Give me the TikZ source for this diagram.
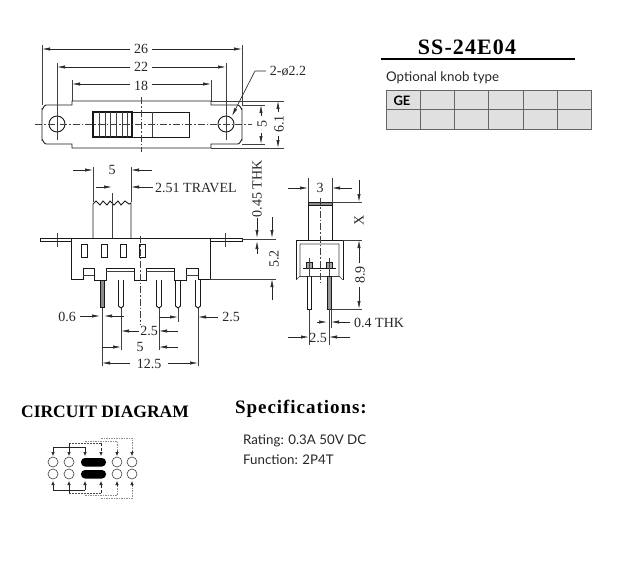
\documentclass[tikz,border=0pt]{standalone}
\usepackage{fontspec}
\setmainfont{Liberation Serif}
\newfontfamily\dimfont{Liberation Serif}
\newfontfamily\labfont{Lato}
\newfontfamily\spacedfont[LetterSpace=5,BoldFont={Liberation Serif Bold}]{Liberation Serif}
\newfontfamily\spacedtitle[LetterSpace=5,BoldFont={Liberation Serif Bold}]{Liberation Serif}
\usetikzlibrary{arrows.meta}
\tikzset{
  obj/.style={draw=black!90,line width=.9pt},
  thinl/.style={draw=black!75,line width=.6pt},
  cen/.style={draw=black!75,line width=.65pt,dash pattern=on 7pt off 2pt on 1.5pt off 2pt},
  dimarr/.style={draw=black!85,line width=.65pt,-{Latex[length=8pt,width=3.2pt]}},
  dimtxt/.style={font=\dimfont\fontsize{14}{14}\selectfont,inner sep=0pt,text=black!85},
  ctline/.style={draw=black!85,line width=.6pt},
  ctdash/.style={draw=black!70,line width=.6pt,dash pattern=on 2pt off 1pt},
  ctdot/.style={draw=black!45,line width=.8pt,dash pattern=on 1.5pt off 1pt},
  ctarr/.style={-{Latex[length=4pt,width=3.5pt]}},
  hole/.style={draw=black!75,line width=.6pt,fill=white},
  lab/.style={font=\labfont\fontsize{13.3}{13.3}\selectfont,inner sep=0pt,anchor=west,text=black!85}
}
\begin{document}
\begin{tikzpicture}[x=1pt,y=-1pt]
\useasboundingbox (0,0) rectangle (617,567);
% === top view ===
\path[obj] (72,101) -- (211,101) -- (211,105) -- (238,105) to[out=0,in=-90] (242,109) -- (242,140) to[out=90,in=0] (238,144) -- (211,144) -- (211,148) -- (72,148) -- (72,144) -- (46,144) to[out=180,in=90] (42,140) -- (42,109) to[out=-90,in=180] (46,105) -- (72,105) -- cycle;
\draw[obj] (57,124) circle (8);
\draw[obj] (226,124) circle (8);
\draw[obj,line width=.8pt] (93,112) rectangle (189,137);
\draw[obj,line width=1.2pt] (93,112) rectangle (132,137);
\foreach \x in {99,105,110,116,122,127} \draw[thinl] (\x,112) -- (\x,137);
\draw[thinl] (152,112) -- (152,137);
\draw[cen] (35,124) -- (252,124);
\draw[cen] (141,97) -- (141,152);
\draw[thinl] (57,63) -- (57,140);
\draw[thinl] (226,63) -- (226,140);
\draw[thinl] (42,45) -- (42,105);
\draw[thinl] (242,45) -- (242,105);
\draw[thinl] (72,80) -- (72,101);
\draw[thinl] (211,80) -- (211,101);
\draw[thinl] (211,101) -- (284,101);
\draw[thinl] (211,148) -- (284,148);
\draw[thinl] (242,105) -- (265,105);
\draw[thinl] (242,144) -- (265,144);
\node[dimtxt] (d26) at (141,49) {26};
\node[dimtxt] (d22) at (141,67) {22};
\node[dimtxt] (d18) at (141,86) {18};
\draw[dimarr] (130,49) -- (42,49);
\draw[dimarr] (152,49) -- (242,49);
\draw[dimarr] (130,67) -- (57,67);
\draw[dimarr] (152,67) -- (226,67);
\draw[dimarr] (130,84) -- (72,84);
\draw[dimarr] (152,84) -- (211,84);
\node[dimtxt] (dhole) at (288,71) {2-ø2.2};
\draw[dimarr] (266,71) -- (255,71) -- (232,116);
\node[dimtxt,rotate=90] (d5a) at (262,124) {5};
\draw[dimarr] (261,116) -- (261,105);
\draw[dimarr] (261,133) -- (261,144);
\node[dimtxt,rotate=90] (d61) at (279,124) {6.1};
\draw[dimarr] (278,112) -- (278,101);
\draw[dimarr] (278,136) -- (278,148);
% === front view ===
\draw[obj] (71,238) -- (242,238) -- (242,241) -- (210,241);
\draw[obj] (71,238) -- (40,238) -- (40,241) -- (71,241);
\draw[obj] (71,238) -- (71,279) -- (83,279) -- (83,268) -- (94,268) -- (94,280) -- (106,280) -- (106,268) -- (134,268) -- (134,280) -- (146,280) -- (146,268) -- (174,268) -- (174,280) -- (186,280) -- (186,268) -- (198,268) -- (198,279) -- (210,279) -- (210,238);
\draw[thinl] (83,275) -- (94,275);
\draw[thinl] (106,271) -- (134,271);
\draw[thinl] (146,271) -- (174,271);
\draw[thinl] (186,275) -- (198,275);
\draw[obj] (93,238) -- (93,204) -- (96,201) -- (100,205) -- (103,201) -- (107,205) -- (110,201) -- (114,205) -- (118,201) -- (121,205) -- (125,201) -- (129,204) -- (131,203) -- (131,238);
\foreach \x in {81,101,120,139} \draw[obj] (\x,244) rectangle (\x+6,257);
\draw[obj,fill=black!45] (100,280) rectangle (104,307);
\foreach \x in {121,159,178,198} \draw[obj] (\x-2.5,280) -- (\x-2.5,306) -- (\x,308) -- (\x+2.5,306) -- (\x+2.5,280);
\draw[thinl] (112,193) -- (112,238);
\draw[cen] (140,236) -- (140,325);
\draw[thinl] (57,233) -- (57,247);
\draw[thinl] (225,233) -- (225,247);
% front dims
\draw[thinl] (93,167) -- (93,202);
\draw[thinl] (131,167) -- (131,202);
\node[dimtxt] (d5b) at (112,170) {5};
\draw[dimarr] (73,170) -- (93,170);
\draw[dimarr] (152,170) -- (131,170);
\draw[dimarr] (96,187) -- (112,187);
\draw[dimarr] (153,187) -- (131,187);
\node[dimtxt,anchor=west] (dtravel) at (155,188) {2.51 TRAVEL};
\node[dimtxt,rotate=90] (d045) at (257,189) {0.45 THK};
\draw[dimarr] (257,218) -- (257,238);
\draw[dimarr] (257,254) -- (257,241);
\draw[thinl] (242,239) -- (276,239);
\draw[thinl] (210,279) -- (276,279);
\node[dimtxt,rotate=90] (d52) at (274,259) {5.2};
\draw[dimarr] (272,217) -- (272,238);
\draw[dimarr] (272,300) -- (272,279);
\draw[thinl] (102,308) -- (102,366);
\draw[thinl] (121,308) -- (121,350);
\draw[thinl] (159,308) -- (159,350);
\draw[thinl] (178,308) -- (178,322);
\draw[thinl] (198,308) -- (198,366);
\node[dimtxt] (d06) at (67,317) {0.6};
\draw[dimarr] (80,316) -- (100,316);
\draw[dimarr] (124,316) -- (104,316);
\node[dimtxt] (d25r) at (231,317) {2.5};
\draw[dimarr] (218,317) -- (198,317);
\draw[dimarr] (159,317) -- (178,317);
\node[dimtxt] (d25m) at (149,331) {2.5};
\draw[dimarr] (139,331) -- (121,331);
\draw[dimarr] (178,331) -- (159,331);
\node[dimtxt] (d5c) at (140,347) {5};
\draw[dimarr] (102,347) -- (121,347);
\draw[dimarr] (178,347) -- (159,347);
\node[dimtxt] (d125) at (149,364) {12.5};
\draw[dimarr] (130,363) -- (102,363);
\draw[dimarr] (168,363) -- (198,363);
% === side view ===
\draw[obj] (308,240) -- (308,202) -- (332,202) -- (332,240);
\draw[obj,fill=black!45,line width=.4pt] (308,202) rectangle (332,205);
\draw[obj] (296,280) -- (296,240) -- (343,240) -- (343,280);
\draw[thinl] (296,280) -- (300,276) -- (300,244) -- (339,244) -- (339,276) -- (343,280);
\draw[thinl] (299,276) -- (340,276);
\draw[obj] (303,268) -- (336,268);
\draw[obj,fill=black!35] (306,262) rectangle (312,268);
\draw[obj,fill=black!35] (326,262) rectangle (332,268);
\draw[obj] (307,276) -- (307,309) -- (311,309) -- (311,276);
\draw[obj,fill=black!40] (327,276) rectangle (331,309);
\draw[cen] (320,198) -- (320,283);
\draw[thinl] (332,202) -- (362,202);
\draw[thinl] (343,240) -- (362,240);
\draw[thinl] (331,309) -- (362,309);
\draw[thinl] (309,258) -- (309,276);
\draw[thinl] (329,258) -- (329,276);
\draw[thinl] (309,309) -- (309,345);
\draw[thinl] (329,309) -- (329,345);
\draw[thinl] (331,309) -- (331,328);
\draw[thinl] (308,178) -- (308,202);
\draw[thinl] (332,178) -- (332,202);
\node[dimtxt] (d3) at (320,188) {3};
\draw[dimarr] (288,188) -- (308,188);
\draw[dimarr] (352,188) -- (332,188);
\draw[dimarr] (359,180) -- (359,202);
\node[dimtxt,rotate=90] (dX) at (359,220) {X};
\node[dimtxt,rotate=90] (d89) at (360,275) {8.9};
\draw[dimarr] (359,263) -- (359,240);
\draw[dimarr] (359,287) -- (359,309);
\node[dimtxt,anchor=west] (d04) at (354,323) {0.4 THK};
\draw[dimarr] (317,322) -- (327,322);
\draw[dimarr] (350,322) -- (331,322);
\node[dimtxt] (d25s) at (318,338) {2.5};
\draw[dimarr] (288,337) -- (309,337);
\draw[dimarr] (350,337) -- (329,337);
% === title and table ===
\node[font=\spacedtitle\bfseries\fontsize{22}{22}\selectfont,inner sep=0pt] (title) at (467,47) {SS-24E04};
\draw[line width=2pt] (381,59) -- (575,59);
\node[lab] (opt) at (386,78) {Optional knob type};
\fill[black!12] (386,90) rectangle (591,129);
\draw[black!60,line width=.9pt] (386,90) rectangle (591,129);
\draw[black!60,line width=.7pt] (386,109.5) -- (591,109.5);
\foreach \x in {420,454,488,523,557} \draw[black!60,line width=.9pt] (\x,90) -- (\x,129);
\node[font=\labfont\bfseries\fontsize{13}{13}\selectfont,inner sep=0pt] (ge) at (402,101) {GE};
% === circuit ===
\node[font=\bfseries\fontsize{17.5}{17.5}\selectfont,inner sep=0pt] (cd) at (105,412) {CIRCUIT DIAGRAM};
\foreach \x in {53,69,117,132} {\draw[hole] (\x,462) circle (5); \draw[hole] (\x,474) circle (5);}
\fill[black,rounded corners=4pt] (81,458) rectangle (106,466.5);
\fill[black,rounded corners=4pt] (81,470) rectangle (106,478.5);
\draw[ctline,ctarr] (85,447) -- (85,456);
\draw[ctline,ctarr] (53,447) -- (53,456);
\draw[ctline] (53,447) -- (85,447);
\draw[ctdash] (69,443) -- (101,443);
\draw[ctline,ctarr] (69,443) -- (69,456);
\draw[ctline,ctarr,densely dashed] (101,443) -- (101,456);
\draw[ctdot] (85,441) -- (117,441) -- (117,452);
\draw[ctline,ctarr] (117,451) -- (117,456);
\draw[ctdot] (101,438) -- (132,438) -- (132,452);
\draw[ctline,ctarr] (132,451) -- (132,456);
\draw[ctline,ctarr] (85,490) -- (85,481);
\draw[ctline,ctarr] (53,490) -- (53,481);
\draw[ctline] (53,490) -- (85,490);
\draw[ctdash] (69,493) -- (101,493);
\draw[ctline,ctarr] (69,493) -- (69,481);
\draw[ctline,ctarr,densely dashed] (101,493) -- (101,481);
\draw[ctdot] (85,495) -- (117,495) -- (117,485);
\draw[ctline,ctarr] (117,486) -- (117,481);
\draw[ctdot] (101,498) -- (132,498) -- (132,485);
\draw[ctline,ctarr] (132,486) -- (132,481);
% === specs ===
\node[font=\spacedfont\bfseries\fontsize{19}{19}\selectfont,inner sep=0pt,anchor=west] (spec) at (235,409) {Specifications:};
\node[lab] (rate) at (243,441) {Rating: 0.3A 50V DC};
\node[lab] (func) at (243,460) {Function: 2P4T};
\end{tikzpicture}
\end{document}
